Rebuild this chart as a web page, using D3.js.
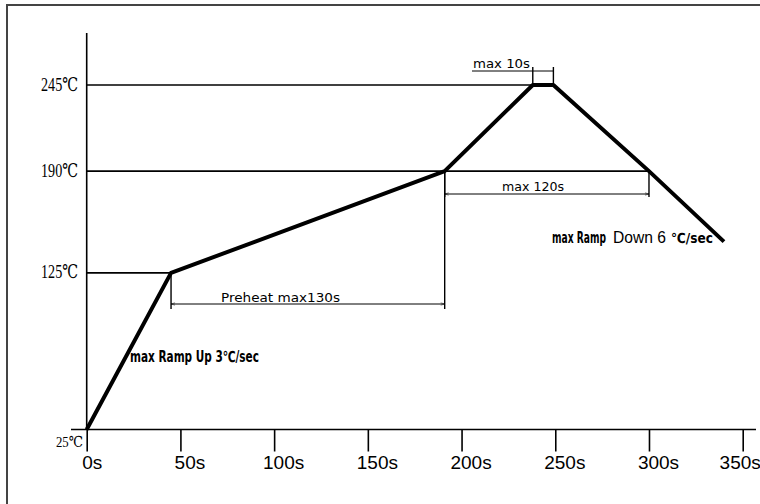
<!DOCTYPE html>
<html>
<head>
<meta charset="utf-8">
<script src="https://cdn.jsdelivr.net/npm/d3@7"></script>
<style>
  body { margin: 0; background: #fff; }
</style>
</head>
<body>
<div id="chart"></div>
<script>
// Reflow profile data (time in seconds, temperature in ℃)
const times = [0, 45, 191, 238, 249, 300, 340];
const temps = [25, 125, 190, 245, 245, 190, 145];

// Axis ticks
const xTicks = [0, 50, 100, 150, 200, 250, 300, 350];
const yTicks = [25, 125, 190, 245];

// Guide lines: temperature level and the time where it ends
const guideTemps = [245, 190, 125];
const guideEnds = [238, 300, 45];

const width = 760;
const height = 504;

const svg = d3.select("#chart")
  .append("svg")
  .attr("width", width)
  .attr("height", height);

// Outer frame (right and bottom edges fall outside the picture)
svg.append("rect")
  .attr("x", 7)
  .attr("y", 5)
  .attr("width", 780)
  .attr("height", 520)
  .attr("fill", "#fff")
  .attr("stroke", "#444")
  .attr("stroke-width", 2);

const x = d3.scaleLinear().domain([0, 350]).range([86.7, 742.7]);
const y = d3.scaleLinear().domain([25, 245]).range([429.5, 85]);

// Arrow marker for dimension lines
const defs = svg.append("defs");
["start", "end"].forEach((k) => {
  defs.append("marker")
    .attr("id", "arr-" + k)
    .attr("viewBox", "0 0 10 10")
    .attr("refX", k === "end" ? 10 : 0)
    .attr("refY", 5)
    .attr("markerWidth", 5)
    .attr("markerHeight", 4)
    .attr("orient", "auto")
    .append("path")
    .attr("d", k === "end" ? "M0,2L10,5L0,8" : "M10,2L0,5L10,8")
    .attr("fill", "none")
    .attr("stroke", "#000")
    .attr("stroke-width", 1.2);
});

// Axes lines
svg.append("line")
  .attr("x1", x(0)).attr("x2", x(0))
  .attr("y1", 33).attr("y2", y(25))
  .attr("stroke", "#000").attr("stroke-width", 1.6);

svg.append("line")
  .attr("x1", 71).attr("x2", 756)
  .attr("y1", y(25)).attr("y2", y(25))
  .attr("stroke", "#000").attr("stroke-width", 1.6);

// X axis ticks and labels
const xAxis = svg.append("g")
  .attr("transform", `translate(0,${y(25)})`)
  .call(d3.axisBottom(x).tickValues(xTicks).tickSize(22).tickSizeOuter(0).tickFormat((d) => d + "s"));
xAxis.select(".domain").remove();
xAxis.selectAll(".tick line").attr("stroke", "#000").attr("stroke-width", 1.6);
xAxis.selectAll(".tick text")
  .attr("y", 39)
  .attr("dy", 0)
  .attr("dx", (d) => (d === 0 ? 5 : d === 350 ? -3 : 9))
  .attr("fill", "#000")
  .style("font-family", "'Liberation Sans', Arial, sans-serif")
  .style("font-size", "19px");

// Horizontal guide lines at key temperatures
svg.selectAll(".guide")
  .data(guideTemps)
  .enter()
  .append("line")
  .attr("class", "guide")
  .attr("x1", x(0))
  .attr("x2", (d, i) => x(guideEnds[i]))
  .attr("y1", (d) => y(d))
  .attr("y2", (d) => y(d))
  .attr("stroke", "#000")
  .attr("stroke-width", 1.6);

// Y labels
svg.selectAll(".ylabel")
  .data(yTicks)
  .enter()
  .append("text")
  .attr("class", "ylabel")
  .attr("x", (d) => (d === 25 ? 83 : 78))
  .attr("y", (d) => y(d) + (d === 25 ? 17.5 : 5.5))
  .attr("text-anchor", "end")
  .attr("textLength", (d) => (d === 25 ? 27 : 37))
  .attr("lengthAdjust", "spacingAndGlyphs")
  .style("font-family", "'Liberation Serif', 'DejaVu Serif', serif")
  .style("font-size", (d) => (d === 25 ? "15px" : "19px"))
  .text((d) => d + "℃");

// Dimension helper
function dim(x1, x2, yy) {
  svg.append("line")
    .attr("x1", x1).attr("x2", x2)
    .attr("y1", yy).attr("y2", yy)
    .attr("stroke", "#000").attr("stroke-width", 1)
    .attr("marker-start", "url(#arr-start)")
    .attr("marker-end", "url(#arr-end)");
}
function ext(xx, y1, y2) {
  svg.append("line")
    .attr("x1", xx).attr("x2", xx)
    .attr("y1", y1).attr("y2", y2)
    .attr("stroke", "#000").attr("stroke-width", 1.4);
}

// Preheat dimension
ext(x(times[1]), y(temps[1]), 309);
ext(x(times[2]), y(temps[2]), 309);
dim(x(times[1]), x(times[2]), 304);
svg.append("text")
  .attr("x", 221).attr("y", 302)
  .attr("textLength", 119).attr("lengthAdjust", "spacingAndGlyphs")
  .style("font-family", "'DejaVu Sans', sans-serif").style("font-size", "12px")
  .text("Preheat max130s");

// max 120s dimension
ext(x(times[2]), y(190), 197);
ext(x(times[5]), y(190), 197);
dim(x(times[2]), x(times[5]), 194);
svg.append("text")
  .attr("x", 502).attr("y", 191)
  .attr("textLength", 62).attr("lengthAdjust", "spacingAndGlyphs")
  .style("font-family", "'DejaVu Sans', sans-serif").style("font-size", "12px")
  .text("max 120s");

// max 10s dimension
ext(x(times[3]), 67, y(245));
ext(x(times[4]), 67, y(245));
svg.append("line")
  .attr("x1", 472).attr("x2", x(times[4]))
  .attr("y1", 71).attr("y2", 71)
  .attr("stroke", "#000").attr("stroke-width", 1);
svg.append("text")
  .attr("x", 473).attr("y", 68)
  .attr("textLength", 57).attr("lengthAdjust", "spacingAndGlyphs")
  .style("font-family", "'DejaVu Sans', sans-serif").style("font-size", "12px")
  .text("max 10s");

// Reflow profile line
const line = d3.line()
  .x((d, i) => x(times[i]))
  .y((d) => y(d));

svg.append("path")
  .datum(temps)
  .attr("d", line)
  .attr("fill", "none")
  .attr("stroke", "#000")
  .attr("stroke-width", 4)
  .attr("stroke-linejoin", "round");

// Squeeze a label horizontally so it fills the given width
function narrowText(tx, ty, w, txt, family, weight, size) {
  const t = svg.append("text")
    .attr("x", 0).attr("y", 0)
    .style("font-family", family)
    .style("font-weight", weight)
    .style("font-size", size + "px")
    .text(txt);
  const k = w / t.node().getComputedTextLength();
  t.attr("transform", `translate(${tx},${ty}) scale(${k},1)`);
}

const condensed = "'DejaVu Sans Condensed', 'DejaVu Sans', sans-serif";

// Ramp annotations
narrowText(130, 362, 129, "max Ramp Up 3℃/sec", condensed, "bold", 15);

// Ramp down label is drawn in three pieces with mixed styles
narrowText(552, 243, 54, "max Ramp", condensed, "bold", 15);
narrowText(613, 243, 53, "Down 6", "'Liberation Sans', sans-serif", "normal", 17);
narrowText(671, 243, 42, "℃/sec", condensed, "bold", 14);
</script>
</body>
</html>
